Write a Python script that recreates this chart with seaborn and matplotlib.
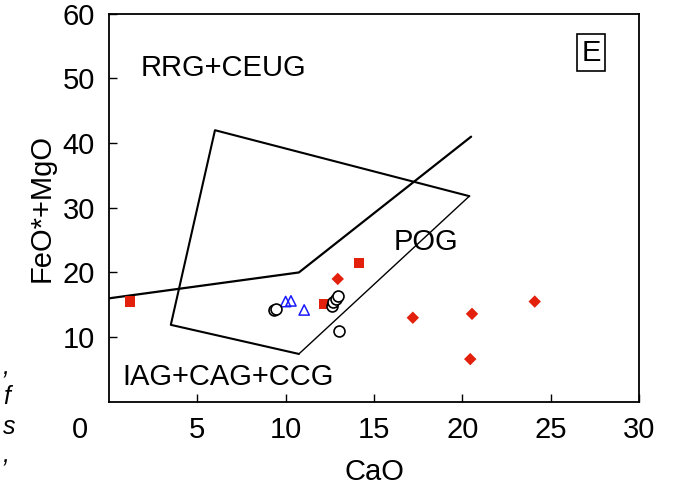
import matplotlib
matplotlib.use("Agg")
import matplotlib.pyplot as plt
import seaborn as sns
import pandas as pd

sns.set_theme(style="ticks")
plt.rcParams["font.family"] = ["Liberation Sans", "DejaVu Sans"]
plt.rcParams["text.color"] = "black"
plt.rcParams["axes.labelcolor"] = "black"

# Sample groups (CaO, FeO*+MgO)
sq_cao = [1.2, 12.2, 14.15]
sq_fm = [15.5, 15.1, 21.5]
dia_cao = [12.95, 17.2, 20.55, 24.1, 20.45]
dia_fm = [19.0, 13.0, 13.6, 15.5, 6.6]
tri_cao = [10.0, 10.3, 11.05]
tri_fm = [15.5, 15.6, 14.2]
circ_cao = [9.35, 9.45, 12.6, 12.7, 12.85, 12.95, 13.0]
circ_fm = [14.2, 14.4, 14.8, 15.5, 15.9, 16.4, 11.0]

# Field boundaries
div_cao = [0.0, 10.75, 20.5]
div_fm = [16.0, 20.0, 41.0]
pog_cao = [10.75, 3.5, 6.0, 20.4]
pog_fm = [7.4, 11.9, 42.0, 31.8]
pog_edge_cao = [20.4, 10.75]
pog_edge_fm = [31.8, 7.4]

xticks = [5, 10, 15, 20, 25, 30]
yticks = [10, 20, 30, 40, 50, 60]

fig, ax = plt.subplots(figsize=(6.79, 4.93), dpi=100)
fig.subplots_adjust(left=0.1605, right=0.941, top=0.972, bottom=0.185)

div = pd.DataFrame({"CaO": div_cao, "FM": div_fm})
sns.lineplot(data=div, x="CaO", y="FM", sort=False, estimator=None,
             color="black", lw=1.6, ax=ax)
pog = pd.DataFrame({"CaO": pog_cao, "FM": pog_fm})
sns.lineplot(data=pog, x="CaO", y="FM", sort=False, estimator=None,
             color="black", lw=1.5, ax=ax)
edge = pd.DataFrame({"CaO": pog_edge_cao, "FM": pog_edge_fm})
sns.lineplot(data=edge, x="CaO", y="FM", sort=False, estimator=None,
             color="black", lw=1.0, ax=ax)

red = "#e3200b"
sns.scatterplot(x=sq_cao, y=sq_fm, marker="s", s=55, color=red, edgecolor="none", ax=ax, zorder=3)
sns.scatterplot(x=dia_cao, y=dia_fm, marker="D", s=40, color=red, edgecolor="none", ax=ax, zorder=3)
sns.scatterplot(x=tri_cao, y=tri_fm, marker="^", s=55, facecolor="none", edgecolor="#1a1aff",
                linewidth=1.1, ax=ax, zorder=3)
sns.scatterplot(x=circ_cao, y=circ_fm, marker="o", s=62, facecolor="white", edgecolor="black",
                linewidth=1.2, ax=ax, zorder=4)

ax.set_xlim(0, 30)
ax.set_ylim(0, 60)
ax.set_xticks(xticks)
ax.set_yticks(yticks)
fs = 21
ax.tick_params(direction="in", length=6, width=1, labelsize=fs, colors="black", pad=10)
ax.set_xlabel("CaO", fontsize=fs, labelpad=10)
ax.set_ylabel("FeO*+MgO", fontsize=fs, labelpad=5)
for sp in ax.spines.values():
    sp.set_visible(True)
    sp.set_linewidth(1.3)
    sp.set_color("black")

ax.text(1.8, 51.6, "RRG+CEUG", fontsize=fs, va="center", ha="left")
ax.text(16.1, 24.7, "POG", fontsize=fs, va="center", ha="left")
ax.text(0.75, 3.9, "IAG+CAG+CCG", fontsize=fs, va="center", ha="left")
ax.text(27.3, 54.0, "E", fontsize=fs, va="center", ha="center",
        bbox=dict(boxstyle="square,pad=0.15", facecolor="white", edgecolor="black", lw=1.2))

# shared origin label
fig.text(80 / 679, 1 - 430 / 493, "0", fontsize=fs, ha="center", va="center")

# edge of adjacent caption text
for yy, t in [(368, ","), (397, "f"), (427, "s"), (455, ",")]:
    fig.text(3 / 679, 1 - yy / 493, t, fontsize=18, style="italic", ha="left", va="center")

fig.savefig("out.png", dpi=100)
